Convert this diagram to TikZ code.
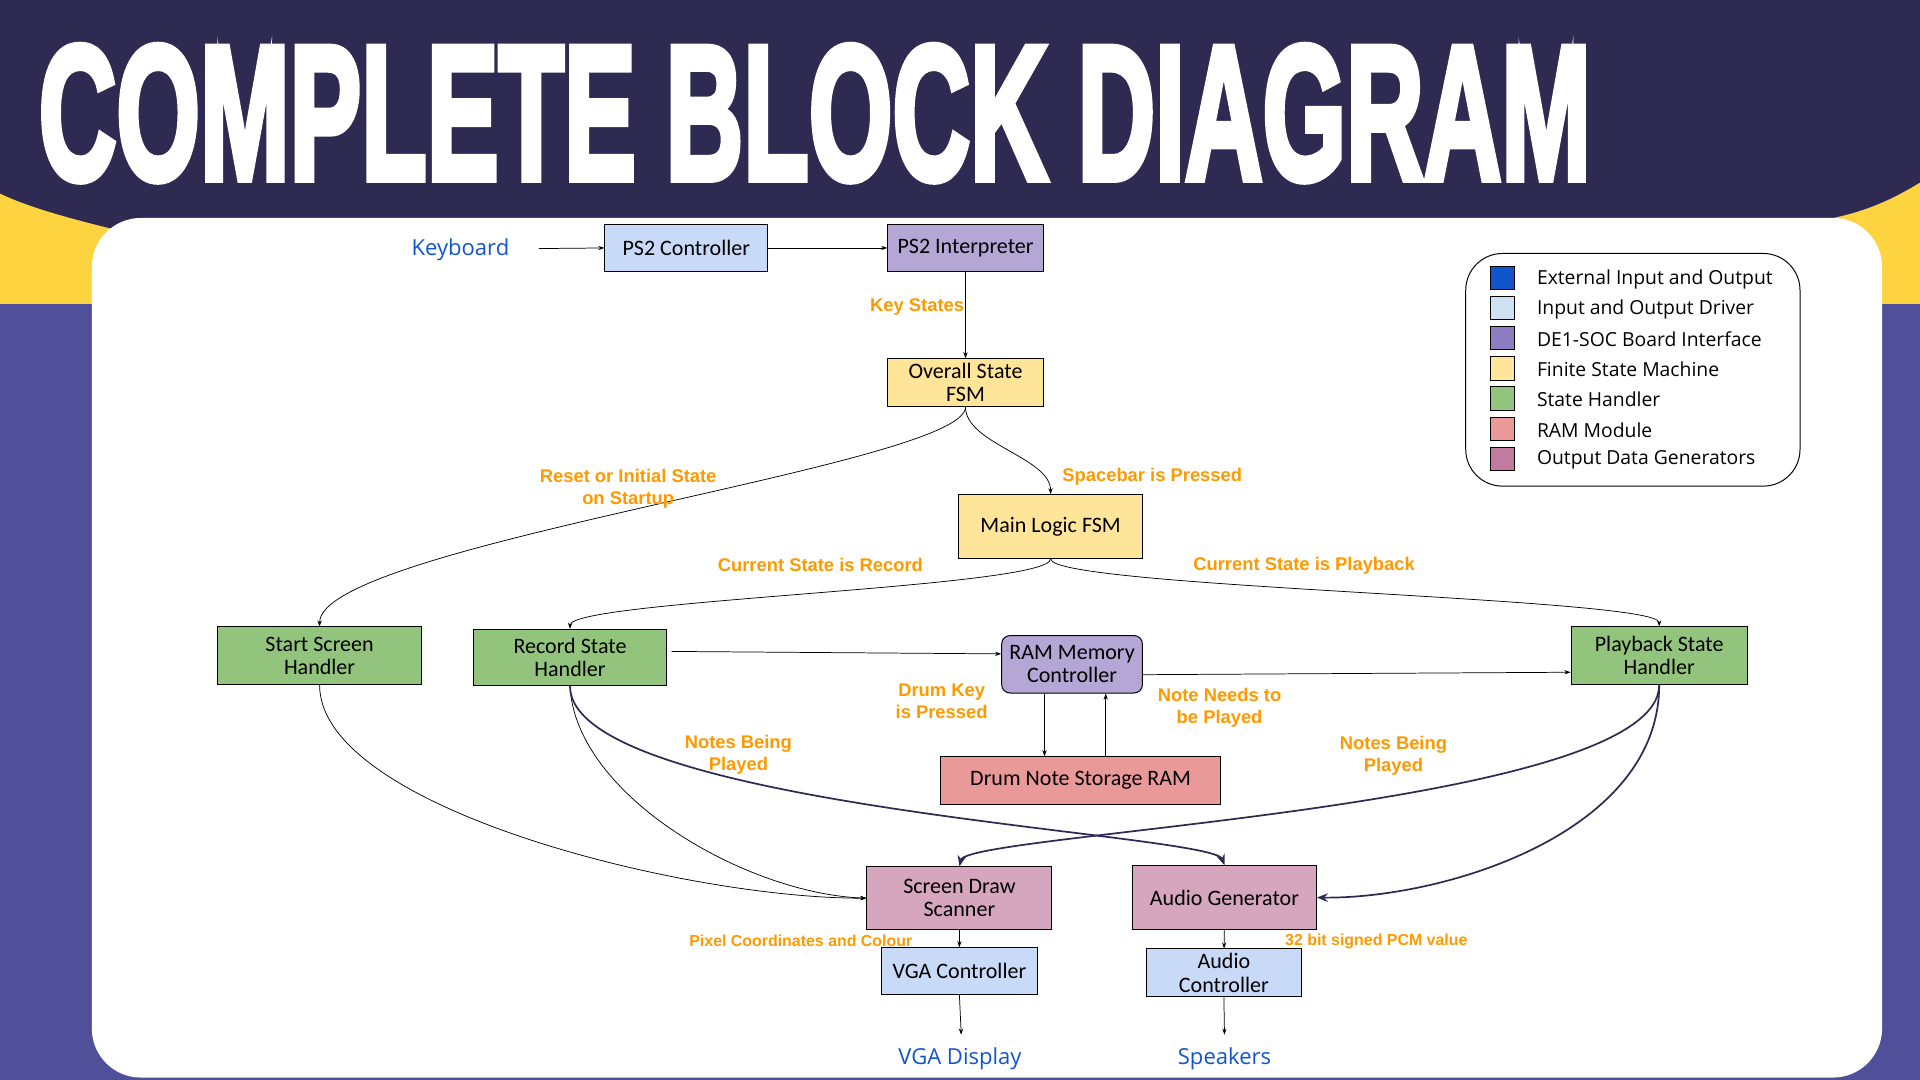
\documentclass[tikz,border=0pt]{standalone}
\usepackage{graphicx}
\usepackage{fontspec}
\setmainfont{Carlito}
\newfontfamily\legfont{Open Sans}
\newfontfamily\labfont{Liberation Sans}
\newfontfamily\titlefont[FakeBold=4]{Liberation Sans}
\usetikzlibrary{arrows.meta}
\definecolor{navy}{HTML}{2E2A52}
\definecolor{purplebg}{HTML}{50509A}
\definecolor{yellowbg}{HTML}{FDD43F}
\definecolor{orangel}{HTML}{FF9900}
\definecolor{bluel}{HTML}{1155CC}
\definecolor{cdrv}{HTML}{C9DAF8}
\definecolor{cde}{HTML}{B4A7D6}
\definecolor{cfsm}{HTML}{FFE599}
\definecolor{csh}{HTML}{93C47D}
\definecolor{cram}{HTML}{EA9999}
\definecolor{codg}{HTML}{D5A6BD}
\definecolor{lext}{HTML}{1155CC}
\definecolor{ldrv}{HTML}{CFE2F3}
\definecolor{lde}{HTML}{8E7CC3}
\definecolor{lfsm}{HTML}{FFE599}
\definecolor{lsh}{HTML}{93C47D}
\definecolor{lram}{HTML}{EA9999}
\definecolor{lodg}{HTML}{C27BA0}
\begin{document}
\begin{tikzpicture}[x=1pt,y=-1pt,
  box/.style={draw=black,line width=0.8pt,inner sep=2pt,align=center,
    font=\fontsize{18}{19}\selectfont,text=black},
  lab/.style={text=orangel,align=center,inner sep=0pt,
    font=\labfont\bfseries\fontsize{15}{18}\selectfont},
  slab/.style={text=orangel,align=center,inner sep=0pt,
    font=\labfont\bfseries\fontsize{13}{15}\selectfont},
  io/.style={text=bluel,inner sep=0pt,font=\legfont\fontsize{18}{22}\selectfont},
  thinarr/.style={-{Stealth[length=5pt,width=3.5pt]},line width=0.6pt},
  thickarr/.style={-{Stealth[length=9pt,width=7pt,inset=3pt]},line width=1.4pt,draw=navy},
  legsq/.style={draw=black,line width=0.7pt,minimum size=19pt,inner sep=0pt},
  legt/.style={anchor=west,inner sep=0pt,font=\legfont\fontsize{15.8}{18}\selectfont}
]
\useasboundingbox (0,0) rectangle (1568,882);
% background
\fill[purplebg] (0,0) rectangle (1568,882);
\fill[yellowbg] (0,0) rectangle (1568,248);
\fill[navy] (0,0) -- (1568,0) -- (1568,149)
  .. controls (1545,163) and (1525,172) .. (1497,178)
  -- (1497,210) -- (110,210) -- (92,187)
  .. controls (60,179) and (25,170) .. (0,158) -- cycle;
\fill[white,rounded corners=40pt] (75,178) rectangle (1537,880);
% title
\node[inner sep=0pt,text=white] (title) at (665.5,92.5)
  {\resizebox{1267pt}{109pt}{\titlefont\bfseries COMPLETE BLOCK DIAGRAM}};
% legend
\node[draw=black,line width=0.8pt,rounded corners=30pt,minimum width=273pt,
  minimum height=190pt,inner sep=0pt] (legend) at (1333.5,302) {};
\foreach \yy/\cc/\tt [count=\i] in {227/lext/External Input and Output,
  251.6/ldrv/Input and Output Driver,276.2/lde/DE1-SOC Board Interface,
  300.8/lfsm/Finite State Machine,325.4/lsh/State Handler,
  350/lram/RAM Module,374.6/lodg/Output Data Generators}{
  \node[legsq,fill=\cc] (sq\i) at (1227,\yy) {};
  \node[legt] (lt\i) at (1255,\yy+1) {\tt};
}
% io texts
\node[io] (kb) at (376,204) {Keyboard};
\node[io] (vgad) at (784,865) {VGA Display};
\node[io] (spk) at (1000,865) {Speakers};
% boxes
\node[box,fill=cdrv,minimum width=133pt,minimum height=39pt] (ps2c) at (560.5,202.5) {PS2 Controller};
\node[box,fill=cde,minimum width=127pt,minimum height=39pt] (ps2i) at (788.5,202.5) {PS2 Interpreter};
\node[box,fill=cfsm,minimum width=127pt,minimum height=39pt] (ov) at (788.5,312.5) {Overall State\\FSM};
\node[box,fill=cfsm,minimum width=150pt,minimum height=52pt] (ml) at (858,430) {Main Logic FSM};
\node[box,fill=csh,minimum width=166pt,minimum height=47pt] (ss) at (261,535.5) {Start Screen\\Handler};
\node[box,fill=csh,minimum width=157pt,minimum height=46pt] (rs) at (465.5,537) {Record State\\Handler};
\node[box,fill=csh,minimum width=144pt,minimum height=47pt] (pb) at (1355,535.5) {Playback State\\Handler};
\node[box,fill=cde,rounded corners=7pt,minimum width=115pt,minimum height=47pt] (ram) at (875.5,542.5) {RAM Memory\\Controller};
\node[box,fill=cram,minimum width=229pt,minimum height=39pt] (drum) at (882.5,637.5) {Drum Note Storage RAM};
\node[box,fill=codg,minimum width=151pt,minimum height=51pt] (sd) at (783.5,733.5) {Screen Draw\\Scanner};
\node[box,fill=codg,minimum width=150pt,minimum height=52pt] (ag) at (1000,733) {Audio Generator};
\node[box,fill=cdrv,minimum width=127pt,minimum height=38pt] (vga) at (783.5,793) {VGA Controller};
\node[box,fill=cdrv,minimum width=127pt,minimum height=39pt] (ac) at (999.5,794.5) {Audio\\Controller};
\coordinate (kbstart) at (440,203);
\coordinate (vgaend) at (785,845);
\coordinate (spkend) at (1000,845);
% connectors
\draw[thinarr] (kbstart) -- (ps2c.west);
\draw[thinarr] (ps2c) -- (ps2i);
\draw[thinarr] (ps2i) -- (ov);
\draw[thinarr] (ov.south) .. controls +(0,30) and +(0,-30) .. (ml.north);
\draw[thinarr] (ov.south) .. controls (789,380) and (261,445) .. (ss.north);
\draw[thinarr] (ml.south) .. controls (858,480) and (466,490) .. (rs.north);
\draw[thinarr] (ml.south) .. controls (858,480) and (1355,488) .. (pb.north);
\draw[thinarr] ([shift={(4,-5)}]rs.east) -- ([shift={(0,-8.5)}]ram.west);
\draw[thinarr] ([shift={(0,8.5)}]ram.east) -- ([shift={(0,13.5)}]pb.west);
\draw[thinarr] ([xshift=-22.5pt]ram.south) -- ([xshift=-22.5pt]ram.south |- drum.north);
\draw[thinarr] ([xshift=27.5pt]ram.south |- drum.north) -- ([xshift=27.5pt]ram.south);
\draw[thinarr] (ss.south) .. controls (261,660) and (560,734) .. (sd.west);
\draw[thinarr] (rs.south) .. controls (470,650) and (610,730) .. (sd.west);
\draw[thickarr] (rs.south) .. controls (466,660) and (990,680) .. (ag.north);
\draw[thickarr] (pb.south) .. controls (1355,660) and (790,680) .. (sd.north);
\draw[thickarr] (pb.south) .. controls (1355,680) and (1180,734) .. (ag.east);
\draw[thinarr] (sd) -- (vga);
\draw[thinarr] (ag) -- (ac);
\draw[thinarr] (vga.south) -- (vgaend);
\draw[thinarr] (ac.south) -- (spkend);
% labels
\node[lab] (lkey) at (749,251) {Key States};
\node[lab] (lspace) at (941,389) {Spacebar is Pressed};
\node[lab] (lreset) at (513,399) {Reset or Initial State\\on Startup};
\node[lab] (lrec) at (670,461) {Current State is Record};
\node[lab] (lplay) at (1065,462) {Current State is Playback};
\node[lab] (ldrum) at (769,573) {Drum Key\\is Pressed};
\node[lab] (lneed) at (996,578) {Note Needs to\\be Played};
\node[lab] (lnb1) at (603,616) {Notes Being\\Played};
\node[lab] (lnb2) at (1138,617) {Notes Being\\Played};
\node[slab] (lpix) at (654,768) {Pixel Coordinates and Colour};
\node[slab] (lpcm) at (1124,769) {32 bit signed PCM value};
\end{tikzpicture}
\end{document}
